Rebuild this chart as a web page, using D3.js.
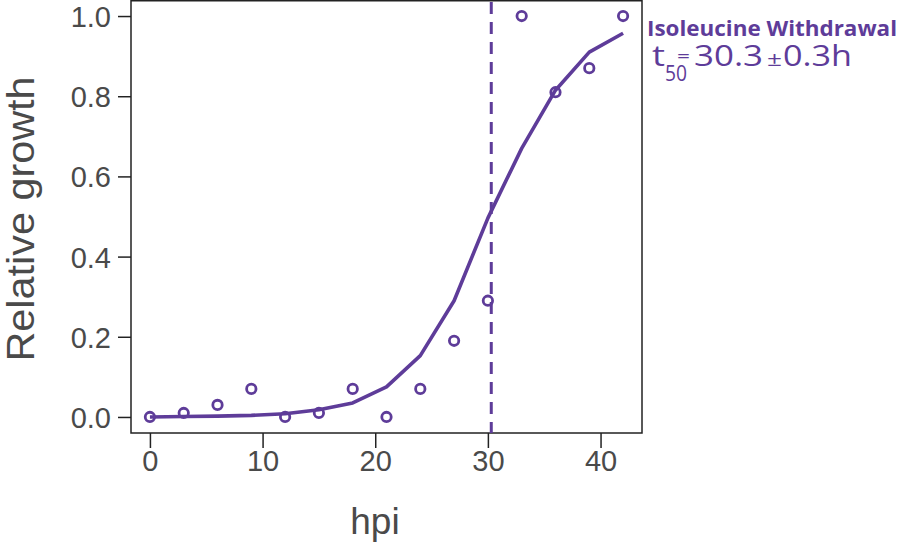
<!DOCTYPE html>
<html><head><meta charset="utf-8">
<script src="https://cdn.jsdelivr.net/npm/d3@7"></script>
<style>body{margin:0;background:#fff}</style>
</head><body>
<svg id="c" width="898" height="545"></svg>
<script>
const hours = [0,3,6,9,12,15,18,21,24,27,30,33,36,39,42];
const observed = [0,0.01,0.03,0.07,0,0.01,0.07,0,0.07,0.19,0.29,1.0,0.81,0.87,1.0];
const fitted = [0,0.001,0.002,0.004,0.008,0.018,0.035,0.075,0.153,0.29,0.496,0.67,0.815,0.91,0.957];
const t50 = 30.3;
const t50err = 0.3;
const xTicks = [0,10,20,30,40];
const yTicks = [0,0.2,0.4,0.6,0.8,1.0];
const title = "Isoleucine Withdrawal";

const purple = "#5e3c99", gray = "#4a4a4a";
const svg = d3.select("#c");
const L=131,R=642,T=0,B=433;
const x = d3.scaleLinear().domain([-1.68,43.68]).range([L,R]);
const y = d3.scaleLinear().domain([-0.04,1.04]).range([B,T]);
const font = "'Liberation Sans', Arial, sans-serif";
const font2 = "'Open Sans', sans-serif";

svg.append("rect").attr("x",L).attr("y",T+0.75).attr("width",R-L).attr("height",B-T-0.75)
  .attr("fill","none").attr("stroke","#222").attr("stroke-width",1.5);

const xa = svg.append("g").attr("transform",`translate(0,${B})`)
  .call(d3.axisBottom(x).tickValues(xTicks).tickFormat(d3.format("d")).tickSize(15).tickPadding(2));
const ya = svg.append("g").attr("transform",`translate(${L},0)`)
  .call(d3.axisLeft(y).tickValues(yTicks).tickFormat(d3.format(".1f")).tickSize(13).tickPadding(7));
[xa,ya].forEach(a=>{
  a.select(".domain").remove();
  a.selectAll("line").attr("stroke","#222").attr("stroke-width",1.5);
  a.selectAll("text").attr("fill",gray).style("font-family",font).style("font-size","29px");
});
ya.selectAll("text").attr("dy","0.36em");

svg.append("line").attr("x1",x(t50)).attr("x2",x(t50)).attr("y1",T+2).attr("y2",B)
  .attr("stroke",purple).attr("stroke-width",3).attr("stroke-dasharray","12,8");

svg.append("path").datum(hours.map((h,i)=>[h,fitted[i]]))
  .attr("d",d3.line().x(d=>x(d[0])).y(d=>y(d[1])))
  .attr("fill","none").attr("stroke",purple).attr("stroke-width",3.6).attr("stroke-linejoin","round");

svg.selectAll("circle.o").data(hours.map((h,i)=>[h,observed[i]])).enter().append("circle")
  .attr("cx",d=>x(d[0])).attr("cy",d=>y(d[1])).attr("r",4.7)
  .attr("fill","none").attr("stroke",purple).attr("stroke-width",2.8);

svg.append("text").attr("x",375).attr("y",534).attr("text-anchor","middle")
  .attr("fill",gray).style("font-family",font).style("font-size","37px").text("hpi");
svg.append("text").attr("transform","translate(34,219) rotate(-90)").attr("text-anchor","middle")
  .attr("fill",gray).style("font-family",font).style("font-size","38px")
  .attr("textLength",285).attr("lengthAdjust","spacingAndGlyphs").text("Relative growth");

svg.append("text").attr("x",647).attr("y",36).attr("fill",purple)
  .style("font-family",font2).style("font-weight","bold").style("font-size","22px")
  .attr("textLength",250).attr("lengthAdjust","spacingAndGlyphs").text(title);

function piece(tx,px,py,size,len){
  const e = svg.append("text").attr("x",px).attr("y",py).attr("fill",purple)
    .style("font-family",font2).style("font-size",size+"px").text(tx);
  if(len) e.attr("textLength",len).attr("lengthAdjust","spacingAndGlyphs");
  return e;
}
piece("t",652,66,30,13);
piece("50",665,81,21,22);
piece("=",677,62,17,13);
piece(d3.format(".1f")(t50),694,66,29,69);
piece("±",767,66,20,15);
piece(d3.format(".1f")(t50err)+"h",783,66,29,69);
</script>
</body></html>
